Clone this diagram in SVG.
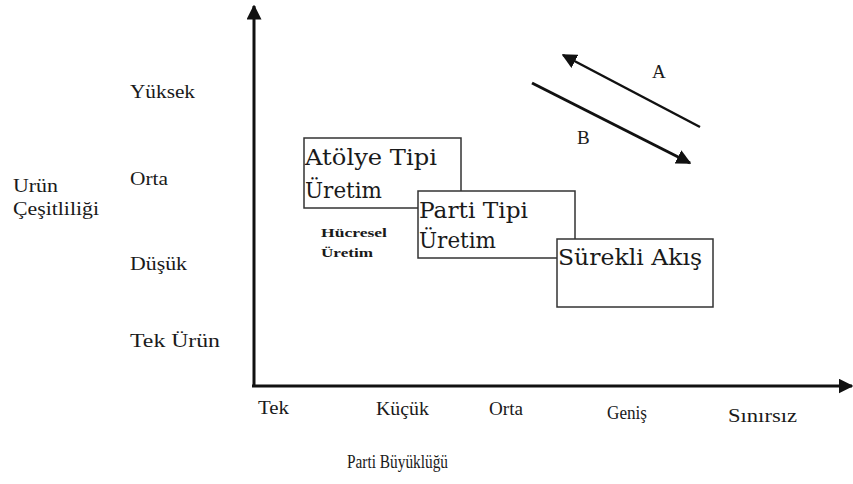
<svg xmlns="http://www.w3.org/2000/svg" width="853" height="484" viewBox="0 0 853 484">
<style>
.lbl{font-family:"Liberation Serif","DejaVu Serif",serif;font-size:19px;fill:#1a1a1a}
.box{fill:#fff;stroke:#333;stroke-width:1.5}
.bt{font-family:"DejaVu Serif","Liberation Serif",serif;font-size:23px;fill:#1a1a1a}
.sm{font-family:"Liberation Serif",serif;font-size:12px;font-weight:bold;fill:#1a1a1a}
.ax{stroke:#111;stroke-width:3;fill:none}
</style>
<defs>
<marker id="ah" viewBox="0 0 10 10" refX="9" refY="5" markerWidth="5" markerHeight="5" orient="auto" markerUnits="strokeWidth">
<path d="M0,0 L10,5 L0,10 z" fill="#111"/>
</marker>
<marker id="ah2" viewBox="0 0 10 10" refX="9" refY="5" markerWidth="6" markerHeight="6" orient="auto" markerUnits="strokeWidth">
<path d="M0,0 L10,5 L0,10 z" fill="#111"/>
</marker>
</defs>
<rect width="853" height="484" fill="#fff"/>
<g id="connectors">
<line class="ax" x1="254" y1="387" x2="254" y2="6" marker-end="url(#ah)"/>
<line class="ax" x1="252" y1="386" x2="852" y2="386" marker-end="url(#ah)"/>
<line x1="700" y1="127" x2="563" y2="55" stroke="#111" stroke-width="2.5" marker-end="url(#ah2)"/>
<line x1="532" y1="83" x2="690" y2="163" stroke="#111" stroke-width="3" marker-end="url(#ah)"/>
</g>
<g id="labels">
<text class="lbl" x="130" y="98" textLength="65" lengthAdjust="spacingAndGlyphs">Yüksek</text>
<text class="lbl" x="130" y="185" textLength="38" lengthAdjust="spacingAndGlyphs">Orta</text>
<text class="lbl" x="130" y="270" textLength="57" lengthAdjust="spacingAndGlyphs">Düşük</text>
<text class="lbl" x="130" y="347" textLength="90" lengthAdjust="spacingAndGlyphs">Tek Ürün</text>
<text class="lbl" x="13" y="192" textLength="45" lengthAdjust="spacingAndGlyphs">Urün</text>
<text class="lbl" x="13" y="215" textLength="86" lengthAdjust="spacingAndGlyphs">Çeşitliliği</text>
<text class="lbl" x="258" y="414" textLength="31" lengthAdjust="spacingAndGlyphs">Tek</text>
<text class="lbl" x="376" y="415" textLength="53" lengthAdjust="spacingAndGlyphs">Küçük</text>
<text class="lbl" x="489" y="415" textLength="34" lengthAdjust="spacingAndGlyphs">Orta</text>
<text class="lbl" x="607" y="419" textLength="40" lengthAdjust="spacingAndGlyphs">Geniş</text>
<text class="lbl" x="728" y="422" textLength="69" lengthAdjust="spacingAndGlyphs">Sınırsız</text>
<text class="lbl" x="347" y="468" textLength="101" lengthAdjust="spacingAndGlyphs">Parti Büyüklüğü</text>
<text class="lbl" x="652" y="78">A</text>
<text class="lbl" x="577" y="144">B</text>
<text class="sm" x="321" y="237" textLength="66" lengthAdjust="spacingAndGlyphs">Hücresel</text>
<text class="sm" x="321" y="257" textLength="52" lengthAdjust="spacingAndGlyphs">Üretim</text>
</g>
<g id="atolye">
<rect class="box" x="304" y="138" width="157" height="70"/>
<text class="bt" x="305" y="165" textLength="132" lengthAdjust="spacingAndGlyphs">Atölye Tipi</text>
<text class="bt" x="305" y="198" textLength="77" lengthAdjust="spacingAndGlyphs">Üretim</text>
</g>
<g id="parti">
<rect class="box" x="418" y="191" width="157" height="67"/>
<text class="bt" x="419" y="218" textLength="109" lengthAdjust="spacingAndGlyphs">Parti Tipi</text>
<text class="bt" x="419" y="248" textLength="77" lengthAdjust="spacingAndGlyphs">Üretim</text>
</g>
<g id="surekli">
<rect class="box" x="557" y="239" width="156" height="68"/>
<text class="bt" x="558" y="265" textLength="144" lengthAdjust="spacingAndGlyphs">Sürekli Akış</text>
</g>
</svg>
